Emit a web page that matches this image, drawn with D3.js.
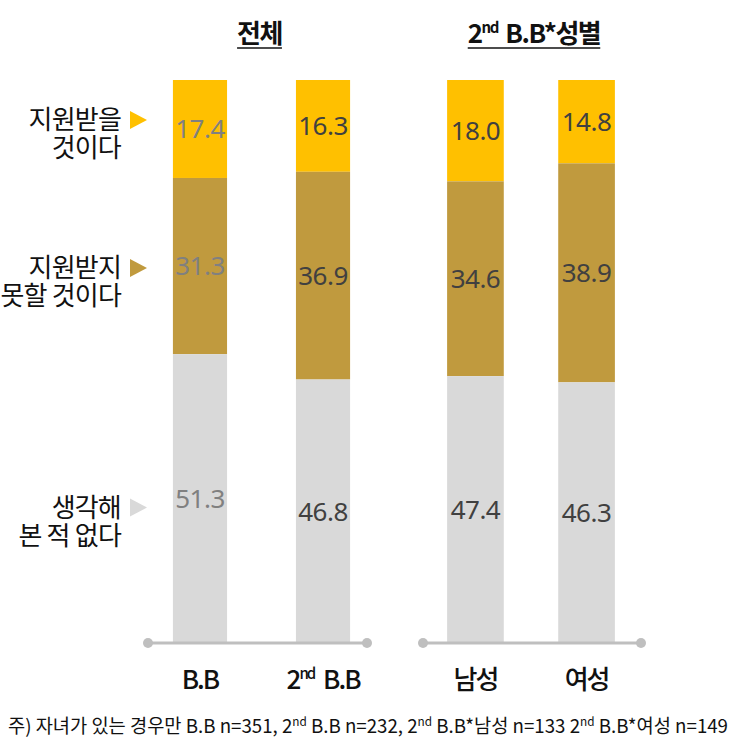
<!DOCTYPE html>
<html>
<head>
<meta charset="utf-8">
<script src="https://cdn.jsdelivr.net/npm/d3@7"></script>
<style>
  body { margin: 0; background: #fff; }
  text { font-family: "Noto Sans CJK KR", "Noto Sans", sans-serif; }
</style>
</head>
<body>
<script>
// DATA
const categories = ['B.B', '2nd B.B', '남성', '여성'];
const groupOf = ['전체', '전체', '2nd B.B*성별', '2nd B.B*성별'];
const series = ['support', 'noSupport', 'never'];
const seriesLabels = [['지원받을', '것이다'], ['지원받지', '못할 것이다'], ['생각해', '본 적 없다']];
const supportVals = [17.4, 16.3, 18.0, 14.8];
const noSupportVals = [31.3, 36.9, 34.6, 38.9];
const neverVals = [51.3, 46.8, 47.4, 46.3];
const footnote = '주) 자녀가 있는 경우만 B.B n=351, 2nd B.B n=232, 2nd B.B*남성 n=133 2nd B.B*여성 n=149';

const colors = { support: '#FFC000', noSupport: '#C09A3E', never: '#D9D9D9' };

const W = 734, H = 749;
const svg = d3.select('body').append('svg').attr('width', W).attr('height', H);

const yScale = d3.scaleLinear().domain([0, 100]).range([643, 80]);

// groups: band scale per group, plus the base line extent
const groups = [
    { name: '전체', line: [148, 367], range: [152, 371], pi: 0.56, po: 0.17 },
    { name: '2nd B.B*성별', line: [423, 641], range: [421, 641], pi: 0.49, po: 0.235 }
];
groups.forEach(function(g) {
    g.x = d3.scaleBand()
        .domain(categories.filter(function(c, i) { return groupOf[i] === g.name; }))
        .range(g.range)
        .paddingInner(g.pi)
        .paddingOuter(g.po);
});
function groupFor(i) { return groups.find(function(g) { return g.name === groupOf[i]; }); }

const rows = categories.map(function(c, i) {
    return { cat: c, i: i, support: supportVals[i], noSupport: noSupportVals[i], never: neverVals[i] };
});
const stacked = d3.stack().keys(series).order(d3.stackOrderReverse)(rows);

// BARS
stacked.forEach(function(layer) {
    svg.append('g').selectAll('rect')
        .data(layer)
        .enter()
        .append('rect')
        .attr('x', function(d) { return groupFor(d.data.i).x(d.data.cat); })
        .attr('width', function(d) { return groupFor(d.data.i).x.bandwidth(); })
        .attr('y', function(d) { return yScale(d[1]); })
        .attr('height', function(d) { return yScale(d[0]) - yScale(d[1]); })
        .attr('fill', colors[layer.key]);
});

// VALUE LABELS
stacked.forEach(function(layer) {
    svg.append('g').selectAll('text')
        .data(layer)
        .enter()
        .append('text')
        .attr('x', function(d) { const g = groupFor(d.data.i); return g.x(d.data.cat) + g.x.bandwidth() / 2; })
        .attr('y', function(d) { return (yScale(d[0]) + yScale(d[1])) / 2; })
        .attr('dy', '0.36em')
        .attr('text-anchor', 'middle')
        .style('font-family', '"Noto Sans", sans-serif')
        .attr('font-size', '26px')
        .attr('letter-spacing', '-0.5px')
        .attr('fill', function(d) { return d.data.i === 0 ? '#808080' : '#404040'; })
        .text(function(d) { return d.data[layer.key].toFixed(1); });
});

// BASE LINES
groups.forEach(function(g) {
    svg.append('line')
        .attr('x1', g.line[0]).attr('x2', g.line[1])
        .attr('y1', yScale(0)).attr('y2', yScale(0))
        .attr('stroke', '#BFBFBF').attr('stroke-width', 3);
    g.line.forEach(function(x) {
        svg.append('circle').attr('cx', x).attr('cy', yScale(0)).attr('r', 5).attr('fill', '#BFBFBF');
    });
});

// text with "nd" superscript (absolute shifts so baseline returns)
function addSup(sel, str, supSize, shift, gap) {
    const parts = str.split('nd');
    sel.append('tspan').text(parts[0]);
    for (let k = 1; k < parts.length; k++) {
        sel.append('tspan').attr('dy', -shift).attr('font-size', supSize).text('nd');
        sel.append('tspan').attr('dy', shift).attr('dx', gap || 0).text(parts[k]);
    }
}

// CATEGORY LABELS
categories.forEach(function(c, i) {
    const g = groupFor(i);
    const t = svg.append('text')
        .attr('x', g.x(c) + g.x.bandwidth() / 2)
        .attr('y', 689)
        .attr('text-anchor', 'middle')
        .attr('font-size', '26px')
        .attr('font-weight', 500)
        .attr('letter-spacing', '-2px')
        .attr('fill', '#111');
    addSup(t, c, '15px', 10, 5);
});

// TITLES
groups.forEach(function(g) {
    const cx = (g.line[0] + g.line[1]) / 2 + 2;
    const t = svg.append('text')
        .attr('x', cx)
        .attr('y', 43)
        .attr('text-anchor', 'middle')
        .attr('font-size', '26px')
        .attr('font-weight', 700)
        .attr('letter-spacing', '-1.5px')
        .attr('fill', '#111');
    addSup(t, g.name, '15px', 10, 3);
    const bb = t.node().getBBox();
    svg.append('line')
        .attr('x1', bb.x).attr('x2', bb.x + bb.width)
        .attr('y1', 48).attr('y2', 48)
        .attr('stroke', '#111').attr('stroke-width', 1.5);
});

// LEGEND (left side)
const legendShift = [-9, 2, 9];
series.forEach(function(key, k) {
    const firstBar = stacked[k][0];
    const y0 = (yScale(firstBar[0]) + yScale(firstBar[1])) / 2 + legendShift[k];
    const t = svg.append('text')
        .attr('y', y0)
        .attr('text-anchor', 'end')
        .attr('font-size', '26px')
        .attr('letter-spacing', '-0.8px')
        .attr('fill', '#111');
    seriesLabels[k].forEach(function(line, j) {
        t.append('tspan')
            .attr('x', 121)
            .attr('dy', j === 0 ? '0.36em' : 28)
            .text(line);
    });
    svg.append('path')
        .attr('d', 'M0,-9L17,0L0,9Z')
        .attr('transform', 'translate(130,' + y0 + ')')
        .attr('fill', colors[key]);
});

// FOOTNOTE
const fn = svg.append('text')
    .attr('x', 8)
    .attr('y', 733)
    .attr('font-size', '19px')
    .attr('fill', '#111');
addSup(fn, footnote, '12px', 7, 0);
fn.attr('textLength', 720).attr('lengthAdjust', 'spacingAndGlyphs');
</script>
</body>
</html>
